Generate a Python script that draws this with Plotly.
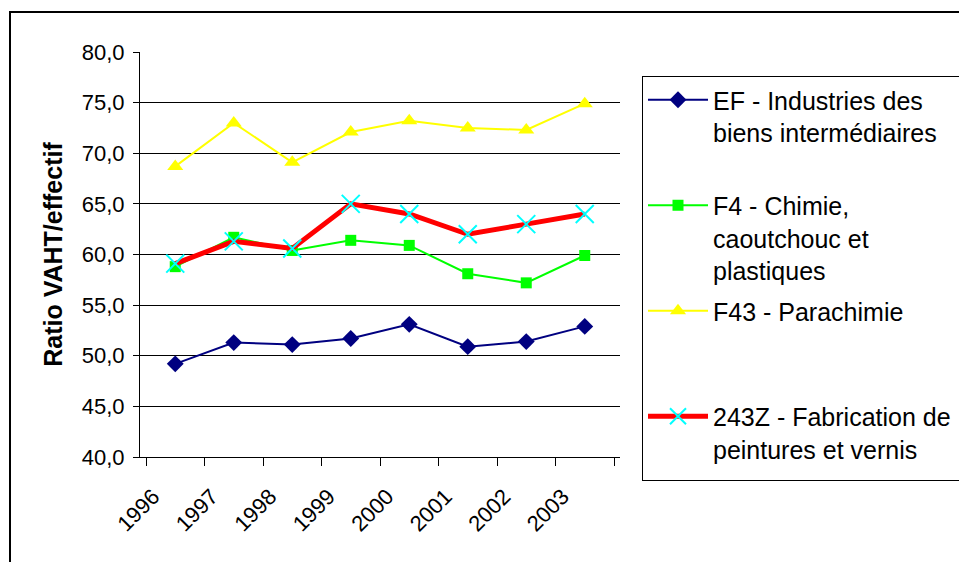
import plotly.graph_objects as go

years = ["1996", "1997", "1998", "1999", "2000", "2001", "2002", "2003"]
ef = [49.2, 51.3, 51.1, 51.7, 53.1, 50.9, 51.4, 52.9]
f4 = [58.8, 61.7, 60.4, 61.4, 60.9, 58.1, 57.2, 59.9]
f43 = [68.7, 73.0, 69.1, 72.1, 73.2, 72.5, 72.3, 74.9]
z243 = [59.1, 61.3, 60.6, 65.0, 64.0, 62.0, 63.0, 64.0]

names = [
    "EF - Industries des<br>biens intermédiaires<br> ",
    "F4 - Chimie,<br>caoutchouc et<br>plastiques",
    "F43 - Parachimie<br> <br> ",
    "243Z - Fabrication de&nbsp;&nbsp;&nbsp;&nbsp;&nbsp;<br>peintures et vernis<br> ",
]
y_ticks = [40, 45, 50, 55, 60, 65, 70, 75, 80]
grid_vals = [45, 50, 55, 60, 65, 70, 75]

FONT = "Liberation Sans, Arial, sans-serif"

fig = go.Figure()
fig.add_trace(go.Scatter(x=years, y=ef, name=names[0], mode="lines+markers",
                         line=dict(color="#000080", width=2),
                         marker=dict(symbol="diamond", size=13, color="#000080"),
                         legendgroup="a"))
fig.add_trace(go.Scatter(x=years, y=f4, name=names[1], mode="lines+markers",
                         line=dict(color="#00FF00", width=2),
                         marker=dict(symbol="square", size=11, color="#00FF00"),
                         legendgroup="b"))
fig.add_trace(go.Scatter(x=years, y=f43, name=names[2], mode="lines+markers",
                         line=dict(color="#FFFF00", width=2),
                         marker=dict(symbol="triangle-up", size=14, color="#FFFF00"),
                         legendgroup="c"))
fig.add_trace(go.Scatter(x=years, y=z243, name=names[3], mode="lines+markers",
                         line=dict(color="#FF0000", width=5),
                         marker=dict(symbol="x-thin", size=18, color="#00FFFF",
                                     line=dict(color="#00FFFF", width=2)),
                         legendgroup="d"))

W, H = 959, 562
L, T = 140, 52
R, B = W - 620, H - 457
pw, ph = W - L - R, H - T - B

fig.update_layout(
    width=W, height=H,
    margin=dict(l=L, r=R, t=T, b=B, autoexpand=False),
    paper_bgcolor="white", plot_bgcolor="white",
    separators=", ",
    font=dict(family=FONT, color="black", size=22),
    showlegend=True,
    legend=dict(
        x=(642 - L) / pw, y=(457 - 76) / ph, xanchor="left", yanchor="top",
        bordercolor="black", borderwidth=1, bgcolor="white",
        font=dict(family=FONT, size=25, color="black"),
        valign="top", tracegroupgap=5, itemwidth=60,
    ),
    xaxis=dict(
        type="category", tickson="boundaries", ticks="outside", ticklen=8,
        tickcolor="black", showline=True, linecolor="black", linewidth=1,
        showgrid=False, tickangle=-45, tickfont=dict(size=22),
        ticklabelshift=-22, ticklabelstandoff=17,
    ),
    yaxis=dict(
        range=[40, 80], tickvals=y_ticks, tickformat=".1f", ticks="outside",
        ticklen=6, tickcolor="black", showline=True, linecolor="black",
        linewidth=1, showgrid=False, zeroline=False, tickfont=dict(size=22),
        ticklabelstandoff=4,
        minor=dict(tickvals=grid_vals, showgrid=True, gridcolor="black",
                   gridwidth=1, ticks=""),
        title=dict(text="<b>Ratio VAHT/effectif</b>", font=dict(size=25), standoff=12),
    ),
    shapes=[dict(type="rect", xref="paper", yref="paper",
                 x0=(10 - L) / pw, x1=2.0, y0=-1.0, y1=(457 - 12) / ph,
                 line=dict(color="black", width=2), fillcolor="rgba(0,0,0,0)",
                 layer="below")],
)

fig.write_html(
    "out.html",
    config={"displayModeBar": False},
    post_script="document.body.style.margin='0';document.body.style.overflow='hidden';",
)
